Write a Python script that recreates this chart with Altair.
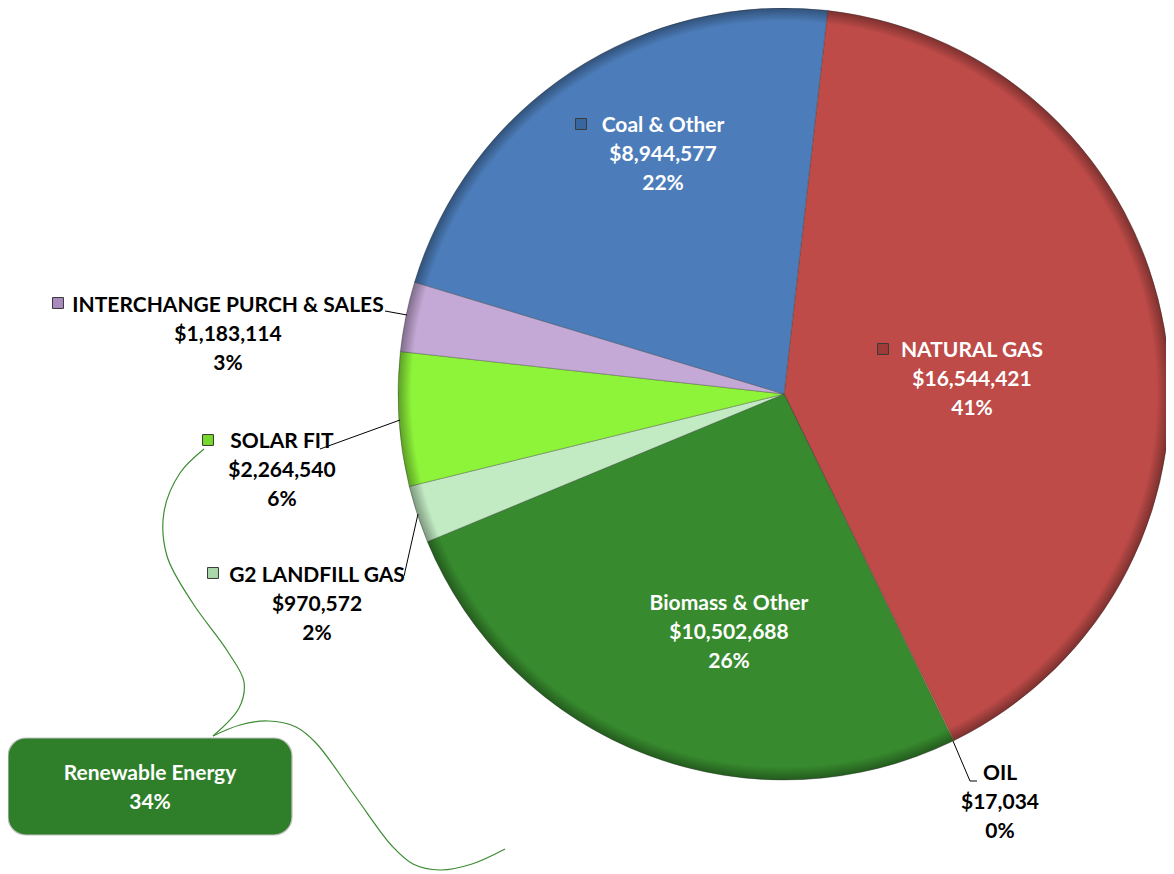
import math
import altair as alt
import pandas as pd

# ---------------- data ----------------
names = ["NATURAL GAS", "OIL", "Biomass & Other", "G2 LANDFILL GAS",
         "SOLAR FIT", "INTERCHANGE PURCH & SALES", "Coal & Other"]
values = [16544421, 17034, 10502688, 970572, 2264540, 1183114, 8944577]
pct_labels = ["41%", "0%", "26%", "2%", "6%", "3%", "22%"]
colors = ["#BE4B48", "#F79646", "#378B2E", "#C2EBC3", "#8EF43A", "#C4A8D5", "#4C7DBA"]
marker_colors = ["#9E3A38", "#F79646", "#378B2E", "#A9D8AA", "#76D82A", "#A98BBE", "#3A66A0"]
renewable_label = ["Renewable Energy", "34%"]

# ---------------- layout (page pixel coords) ----------------
OFF = 8
W, H = 1158, 864
CX, CY, R = 784, 394, 386
START = math.radians(6.5)

# label center x, first baseline y, text colour, marker centre (or None)
label_layout = [
    (972, 357, "white", (883, 349)),
    (1000, 780, "black", None),
    (729, 610, "white", None),
    (317, 582, "black", (213, 573)),
    (282, 448, "black", (208, 440)),
    (228, 312, "black", (58, 303)),
    (663, 132, "white", (581, 124)),
]
LINE_H = 29

leaders = [
    [(385, 311), (407, 315)],
    [(320, 449), (400, 420)],
    [(404, 576), (418, 514)],
    [(953, 741), (970, 781), (977, 781)],
]
brace_curves = [
    [(204, 449), (180, 473), (164, 512), (167, 556), (192, 602), (228, 652),
     (244, 682), (239, 708), (213, 736)],
    [(213, 736), (240, 725), (268, 721), (296, 727), (316, 743), (355, 796),
     (392, 846), (413, 864), (440, 870), (472, 864), (505, 849)],
]
box = (8, 738, 292, 835)

# ---------------- tables ----------------
pie_df = pd.DataFrame({"name": names, "value": values, "idx": range(len(names))})

line_rows = []
for i, (cx, y0, col, mk) in enumerate(label_layout):
    texts = [names[i], "${:,}".format(values[i]), pct_labels[i]]
    for j, t in enumerate(texts):
        line_rows.append({"x": cx - OFF, "y": y0 + j * LINE_H - OFF, "t": t, "c": col})
for j, t in enumerate(renewable_label):
    line_rows.append({"x": 150 - OFF, "y": 780 + j * LINE_H - OFF, "t": t, "c": "white"})
text_df = pd.DataFrame(line_rows)

marker_rows = []
for i, (cx, y0, col, mk) in enumerate(label_layout):
    if mk:
        marker_rows.append({"x": mk[0] - OFF, "y": mk[1] - OFF, "c": marker_colors[i]})
marker_df = pd.DataFrame(marker_rows)

lead_rows = []
for k, pts in enumerate(leaders):
    for j, (x, y) in enumerate(pts):
        lead_rows.append({"x": x - OFF, "y": y - OFF, "k": k, "j": j})
lead_df = pd.DataFrame(lead_rows)

curve_rows = []
for k, pts in enumerate(brace_curves):
    for j, (x, y) in enumerate(pts):
        curve_rows.append({"x": x - OFF, "y": y - OFF, "k": k, "j": j})
curve_df = pd.DataFrame(curve_rows)

box_df = pd.DataFrame([{"x": box[0] - OFF, "y": box[1] - OFF, "x2": box[2] - OFF, "y2": box[3] - OFF}])

color_scale = alt.Scale(domain=names, range=colors)
FONT = "Lato"

pie = alt.Chart(pie_df).mark_arc(
    radius=R, stroke="#3a3a3a", strokeWidth=1, strokeOpacity=0.35
).encode(
    theta=alt.Theta("value:Q", stack=True,
                    scale=alt.Scale(range=[START, START + 2 * math.pi])),
    order=alt.Order("idx:Q"),
    color=alt.Color("name:N", scale=color_scale, legend=None),
    x=alt.value(CX - OFF),
    y=alt.value(CY - OFF),
)

rim = alt.Chart(pd.DataFrame({"v": [1]})).mark_arc(
    radius=R,
    fill={
        "gradient": "radial",
        "x1": 0.5, "y1": 0.5, "r1": 0,
        "x2": 0.5, "y2": 0.5, "r2": 0.5,
        "stops": [
            {"offset": 0, "color": "rgba(0,0,0,0)"},
            {"offset": 0.965, "color": "rgba(0,0,0,0)"},
            {"offset": 1, "color": "rgba(0,0,0,0.35)"},
        ],
    },
).encode(
    theta=alt.value(2 * math.pi),
    x=alt.value(CX - OFF),
    y=alt.value(CY - OFF),
)

leader_lines = alt.Chart(lead_df).mark_line(color="black", strokeWidth=1).encode(
    x=alt.X("x:Q", scale=None), y=alt.Y("y:Q", scale=None),
    detail="k:N", order="j:Q",
)

curves = alt.Chart(curve_df).mark_line(
    color="#3C8C32", strokeWidth=1.2, interpolate="catmull-rom"
).encode(
    x=alt.X("x:Q", scale=None), y=alt.Y("y:Q", scale=None),
    detail="k:N", order="j:Q",
)

rbox = alt.Chart(box_df).mark_rect(
    cornerRadius=18, fill="#2F7F2A", stroke="#BFBFBF", strokeWidth=1.2
).encode(
    x=alt.X("x:Q", scale=None), x2="x2:Q",
    y=alt.Y("y:Q", scale=None), y2="y2:Q",
)

markers = alt.Chart(marker_df).mark_point(
    shape="square", size=120, filled=True, opacity=1,
    stroke="#3a3a3a", strokeWidth=1
).encode(
    x=alt.X("x:Q", scale=None), y=alt.Y("y:Q", scale=None),
    color=alt.Color("c:N", scale=None),
)

labels = alt.Chart(text_df).mark_text(
    font=FONT, fontSize=21, fontWeight="bold", align="center", baseline="alphabetic"
).encode(
    x=alt.X("x:Q", scale=None), y=alt.Y("y:Q", scale=None),
    text="t:N",
    color=alt.Color("c:N", scale=None),
)

chart = alt.layer(pie, rim, leader_lines, curves, rbox, markers, labels).properties(
    width=W, height=H, padding=0, background="white",
    autosize=alt.AutoSizeParams(type="none")
).configure_view(stroke=None, strokeWidth=0)

chart.save("out.html", embed_options={"renderer": "svg", "actions": False})
